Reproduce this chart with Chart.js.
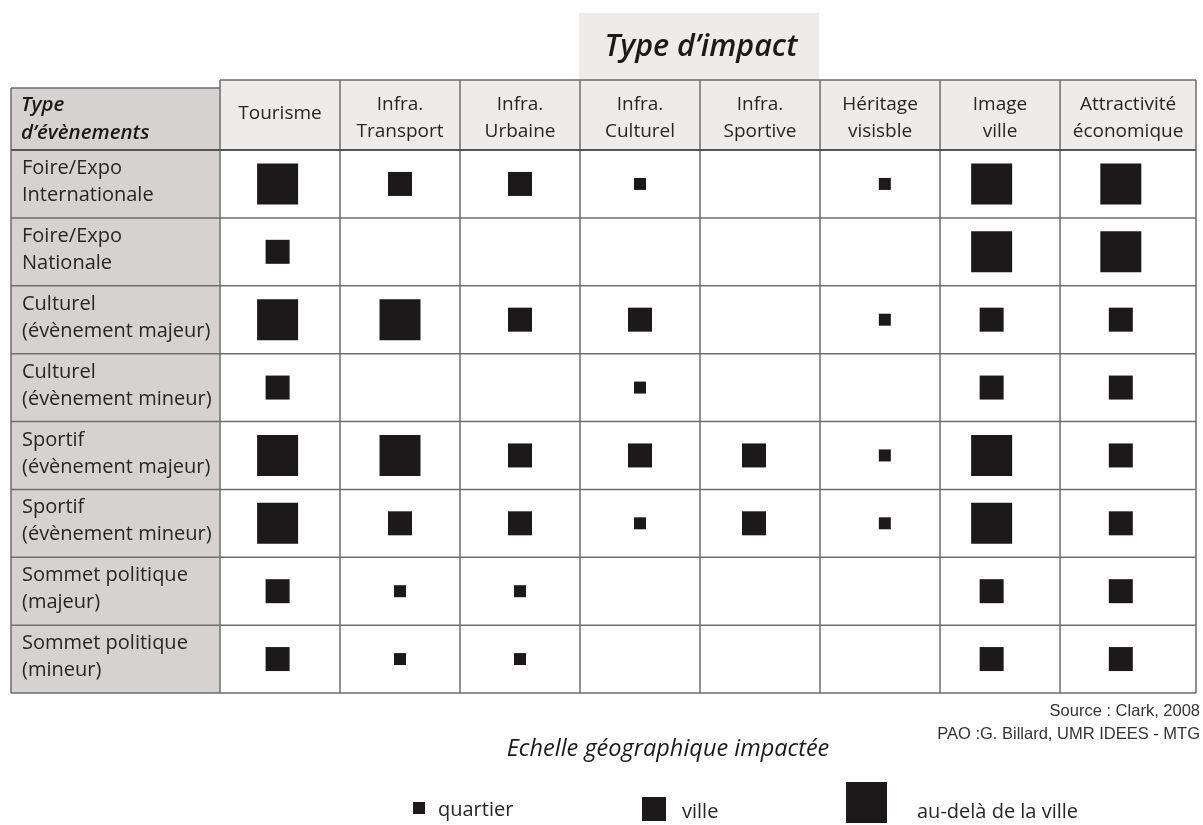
<!DOCTYPE html>
<html><head><meta charset="utf-8">
<script src="https://cdn.jsdelivr.net/npm/chart.js@4/dist/chart.umd.min.js"></script>
<style>html,body{margin:0;padding:0;background:#fff;}#wrap{position:relative;width:1203px;height:825px;}</style>
</head><body><div id="wrap"><canvas id="c" width="1203" height="825"></canvas></div>
<script>
// ---- data ----
const impactTypes = [["Tourisme"],["Infra.","Transport"],["Infra.","Urbaine"],["Infra.","Culturel"],["Infra.","Sportive"],["Héritage","visisble"],["Image","ville"],["Attractivité","économique"]];
const eventTypes = [["Foire/Expo","Internationale"],["Foire/Expo","Nationale"],["Culturel","(évènement majeur)"],["Culturel","(évènement mineur)"],["Sportif","(évènement majeur)"],["Sportif","(évènement mineur)"],["Sommet politique","(majeur)"],["Sommet politique","(mineur)"]];
const scaleLevels = ["quartier","ville","au-delà de la ville"]; // 1,2,3 ; 0 = none
const foireExpoInternationale = [3,2,2,1,0,1,3,3];
const foireExpoNationale      = [2,0,0,0,0,0,3,3];
const culturelMajeur          = [3,3,2,2,0,1,2,2];
const culturelMineur          = [2,0,0,1,0,0,2,2];
const sportifMajeur           = [3,3,2,2,2,1,3,2];
const sportifMineur           = [3,2,2,1,2,1,3,2];
const sommetPolitiqueMajeur   = [2,1,1,0,0,0,2,2];
const sommetPolitiqueMineur   = [2,1,1,0,0,0,2,2];
const levelRows = [foireExpoInternationale,foireExpoNationale,culturelMajeur,culturelMineur,sportifMajeur,sportifMineur,sommetPolitiqueMajeur,sommetPolitiqueMineur];
const titleText = "Type d’impact";
const rowHeaderText = ["Type","d’évènements"];
const legendTitle = "Echelle géographique impactée";
const sourceLines = ["Source : Clark, 2008","PAO :G. Billard, UMR IDEES - MTG"];

// ---- layout / style ----
const colWeights = [1,1,1,1,1,1,1,1.133];
const markShift = [-0.02,0,0,0,-0.05,0.04,-0.07,-0.06]; // slight hand-placement offsets within columns
const squareSides = [12,24,41];
const squareColor = "#1c191b";
const L = {left:220,top:150,right:1196,bottom:693,headerTop:80,labelLeft:11,labelTop:88};
const colStarts = []; let acc = 0; colWeights.forEach(w=>{colStarts.push(acc); acc+=w;});
const totalW = acc;

const datasets = scaleLevels.map((name,li)=>{
  const pts = [];
  levelRows.forEach((row,r)=>row.forEach((v,c)=>{ if(v===li+1) pts.push({x:colStarts[c]+colWeights[c]/2+markShift[c],y:r+0.5}); }));
  return {label:name,data:pts,pointStyle:'rect',pointRadius:squareSides[li]/Math.SQRT2,pointBorderWidth:0,
    backgroundColor:squareColor,borderColor:squareColor,showLine:false};
});

const tablePlugin = {
  id:'table',
  beforeDatasetsDraw(chart){
    const ctx = chart.ctx, xs = chart.scales.x, ys = chart.scales.y;
    const colEdge = i => i<colStarts.length ? xs.getPixelForValue(colStarts[i]) : xs.getPixelForValue(totalW);
    const rowEdge = r => ys.getPixelForValue(r);
    const x0 = colEdge(0), x1 = colEdge(colWeights.length), yT = rowEdge(0), yB = rowEdge(levelRows.length);
    ctx.save();
    // title box
    ctx.fillStyle = "#eeebeb"; ctx.fillRect(579,13,240,L.headerTop-13);
    ctx.fillStyle = "#1a1a1a"; ctx.font = "italic 600 30.5px 'Open Sans'"; ctx.textAlign="center"; ctx.textBaseline="alphabetic";
    ctx.fillText(titleText,701,56);
    // header fill
    ctx.fillStyle = "#eeebeb"; ctx.fillRect(x0,L.headerTop,x1-x0,yT-L.headerTop);
    // label column fill
    ctx.fillStyle = "#d7d2d2"; ctx.fillRect(L.labelLeft,L.labelTop,x0-L.labelLeft,yB-L.labelTop);
    // grid
    ctx.strokeStyle = "#6e6e6e"; ctx.lineWidth = 1.5;
    ctx.beginPath();
    for(let i=0;i<=colWeights.length;i++){ const x=colEdge(i); ctx.moveTo(x,L.headerTop); ctx.lineTo(x,yB); }
    ctx.moveTo(x0,L.headerTop); ctx.lineTo(x1,L.headerTop);
    ctx.moveTo(L.labelLeft,L.labelTop); ctx.lineTo(x0,L.labelTop);
    ctx.moveTo(L.labelLeft,L.labelTop); ctx.lineTo(L.labelLeft,yB);
    for(let r=1;r<=levelRows.length;r++){ const y=rowEdge(r); ctx.moveTo(L.labelLeft,y); ctx.lineTo(x1,y); }
    ctx.stroke();
    ctx.strokeStyle = "#555"; ctx.lineWidth = 2.2;
    ctx.beginPath(); ctx.moveTo(L.labelLeft,yT); ctx.lineTo(x1,yT); ctx.stroke();
    // header labels
    ctx.fillStyle = "#262626"; ctx.font = "19px 'Open Sans'"; ctx.textAlign="center";
    impactTypes.forEach((lab,c)=>{
      const cx = (colEdge(c)+colEdge(c+1))/2;
      if(lab.length===1) ctx.fillText(lab[0],cx,119);
      else { ctx.fillText(lab[0],cx,110); ctx.fillText(lab[1],cx,137); }
    });
    // row header
    ctx.textAlign="left"; ctx.fillStyle="#1a1a1a"; ctx.font = "italic 600 20.5px 'Open Sans'";
    ctx.fillText(rowHeaderText[0],21,111); ctx.fillText(rowHeaderText[1],21,139);
    // row labels
    ctx.fillStyle = "#262626"; ctx.font = "20px 'Open Sans'";
    eventTypes.forEach((lab,r)=>{
      const y = rowEdge(r);
      ctx.fillText(lab[0],22,y+24); ctx.fillText(lab[1],22,y+51);
    });
    // source
    ctx.fillStyle="#333"; ctx.font="16.5px 'Liberation Sans'"; ctx.textAlign="right";
    ctx.fillText(sourceLines[0],1200,716); ctx.fillText(sourceLines[1],1200,739);
    // legend
    ctx.fillStyle="#1a1a1a"; ctx.font="italic 23.5px 'Open Sans'"; ctx.textAlign="center";
    ctx.fillText(legendTitle,668,756);
    const keyX=[413,642,846], keyBottom=[814,821,823], textX=[438,682,917], textY=[816,818,818];
    ctx.textAlign="left"; ctx.font="20px 'Open Sans'";
    scaleLevels.forEach((name,i)=>{
      const s=squareSides[i];
      ctx.fillStyle=squareColor; ctx.fillRect(keyX[i],keyBottom[i]-s,s,s);
      ctx.fillStyle="#262626"; ctx.fillText(name,textX[i],textY[i]);
    });
    ctx.restore();
  }
};

new Chart(document.getElementById('c'),{
  type:'scatter',
  data:{datasets},
  options:{
    responsive:false,animation:false,events:[],
    layout:{autoPadding:false,padding:{left:L.left,top:L.top,right:1203-L.right,bottom:825-L.bottom}},
    scales:{
      x:{type:'linear',min:0,max:totalW,display:false},
      y:{type:'linear',min:0,max:levelRows.length,reverse:true,display:false}
    },
    plugins:{legend:{display:false},tooltip:{enabled:false}}
  },
  plugins:[tablePlugin]
});
</script></body></html>
